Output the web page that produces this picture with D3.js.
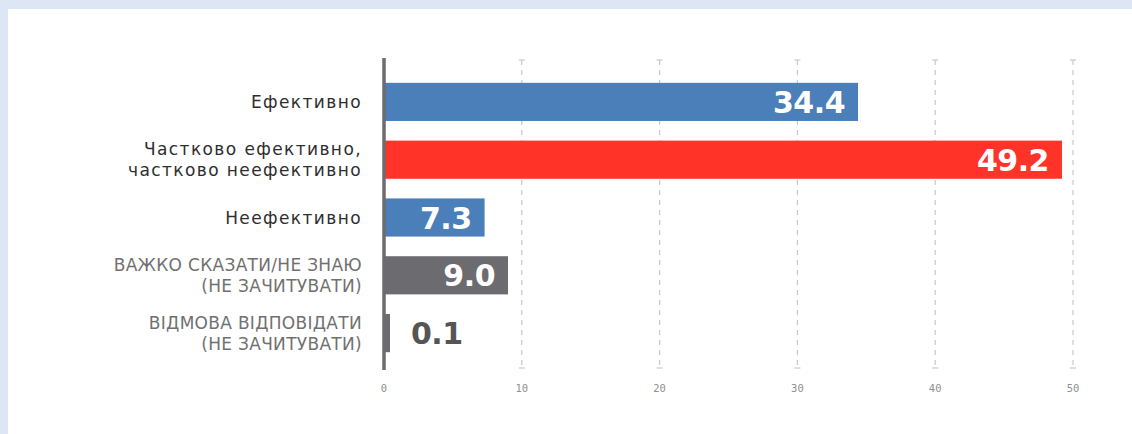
<!DOCTYPE html>
<html lang="uk">
    <head>
        <meta charset="UTF-8" />
        <title>Оцінка ефективності</title>
        <script src="https://cdn.jsdelivr.net/npm/d3@7"></script>
    </head>
    <body style="padding: 0; margin: 0; background-color: #dce6f4;">
        <script>
            // дані
            const categories = [
                ['Ефективно'],
                ['Частково ефективно,', 'частково неефективно'],
                ['Неефективно'],
                ['ВАЖКО СКАЗАТИ/НЕ ЗНАЮ', '(НЕ ЗАЧИТУВАТИ)'],
                ['ВІДМОВА ВІДПОВІДАТИ', '(НЕ ЗАЧИТУВАТИ)']
            ];
            const values = [34.4, 49.2, 7.3, 9.0, 0.1];
            const barColors = ['#4a7fba', '#ff3327', '#4a7fba', '#6b6b70', '#6b6b70'];
            const labelColors = ['#2e2e2e', '#2e2e2e', '#2e2e2e', '#707070', '#707070'];
            const ticks = [0, 10, 20, 30, 40, 50];

            const width = 1132;
            const height = 434;
            const svg = d3
                .select('body')
                .append('svg')
                .attr('width', width)
                .attr('height', height)
                .style('display', 'block');

            // білий фон панелі
            svg.append('rect')
                .attr('x', 8)
                .attr('y', 9)
                .attr('width', width - 8)
                .attr('height', height - 9)
                .attr('fill', '#fff');

            const x = d3.scaleLinear().domain([0, 50]).range([384, 1073]);
            const y = d3
                .scaleBand()
                .domain(d3.range(values.length))
                .range([73, 362])
                .paddingInner(0.34)
                .paddingOuter(0.17);

            // сітка
            const grid = svg.append('g');
            ticks.slice(1).forEach(t => {
                grid.append('line')
                    .attr('x1', x(t))
                    .attr('x2', x(t))
                    .attr('y1', 60)
                    .attr('y2', 368)
                    .attr('stroke', '#c8c8c8')
                    .attr('stroke-width', 1.2)
                    .attr('stroke-dasharray', '5,5');
                [60, 368].forEach(yy => {
                    grid.append('line')
                        .attr('x1', x(t) - 3)
                        .attr('x2', x(t) + 3)
                        .attr('y1', yy)
                        .attr('y2', yy)
                        .attr('stroke', '#c8c8c8')
                        .attr('stroke-width', 1.2);
                });
            });

            // підписи осі
            svg.append('g')
                .selectAll('text')
                .data(ticks)
                .join('text')
                .attr('x', d => x(d))
                .attr('y', 392)
                .attr('text-anchor', 'middle')
                .attr('font-family', '"DejaVu Sans Mono", monospace')
                .attr('font-size', 10.5)
                .attr('fill', '#8f8f8f')
                .text(d => d);

            // стовпці
            svg.append('g')
                .selectAll('rect')
                .data(values)
                .join('rect')
                .attr('x', x(0))
                .attr('y', (d, i) => y(i))
                .attr('width', d => Math.max(x(d) - x(0), 6))
                .attr('height', y.bandwidth())
                .attr('fill', (d, i) => barColors[i]);

            // вісь нуля
            svg.append('line')
                .attr('x1', x(0))
                .attr('x2', x(0))
                .attr('y1', 58)
                .attr('y2', 370)
                .attr('stroke', '#6b6b70')
                .attr('stroke-width', 3.5);

            // значення
            const inside = d => x(d) - x(0) > 60;
            svg.append('g')
                .selectAll('text')
                .data(values)
                .join('text')
                .attr('x', d => (inside(d) ? x(d) - 13 : x(0) + 27))
                .attr('y', (d, i) => y(i) + y.bandwidth() / 2 + 11)
                .attr('text-anchor', d => (inside(d) ? 'end' : 'start'))
                .attr('font-family', '"DejaVu Sans", sans-serif')
                .attr('font-weight', 'bold')
                .attr('font-size', 30)
                .attr('letter-spacing', -0.5)
                .attr('fill', d => (inside(d) ? '#fff' : '#555'))
                .text(d => d.toFixed(1));

            // категорії
            const cat = svg.append('g')
                .selectAll('text')
                .data(categories)
                .join('text')
                .attr('text-anchor', 'end')
                .attr('font-family', '"DejaVu Sans", sans-serif')
                .attr('font-size', 17)
                .attr('letter-spacing', (d, i) => (i < 3 ? 1.4 : 0.3))
                .attr('fill', (d, i) => labelColors[i]);
            cat.each(function (lines, i) {
                const cy = y(i) + y.bandwidth() / 2;
                const lh = 21;
                const start = cy - ((lines.length - 1) * lh) / 2 + 6;
                lines.forEach((l, j) => {
                    d3.select(this)
                        .append('tspan')
                        .attr('x', 362)
                        .attr('y', start + j * lh)
                        .text(l);
                });
            });
        </script>
    </body>
</html>
